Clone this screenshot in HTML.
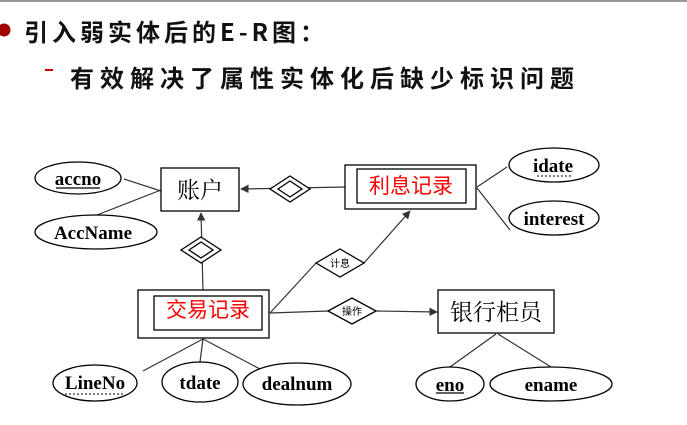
<!DOCTYPE html>
<html><head><meta charset="utf-8"><style>
html,body{margin:0;padding:0;background:#fff;width:687px;height:425px;overflow:hidden}
svg{display:block}
.t{font-family:"Liberation Serif","Noto Serif CJK SC",serif;font-weight:bold;font-size:19px;fill:#000}
.c{font-family:"Noto Serif CJK SC","Liberation Serif",serif;font-size:23px;fill:#000}
.r{font-family:"Noto Sans CJK SC",sans-serif;font-size:21px;fill:#f00}
.s{font-family:"Noto Sans CJK SC",sans-serif;font-size:10px;fill:#000}
.h{font-family:"Noto Sans CJK SC",sans-serif;font-size:24px;font-weight:bold;fill:#111;letter-spacing:4px}
</style></head><body>
<svg width="687" height="425" viewBox="0 0 687 425" xmlns="http://www.w3.org/2000/svg">
<defs><marker id="a" viewBox="0 0 10 10" refX="9" refY="5" markerWidth="7" markerHeight="7" orient="auto"><path d="M0,0L10,5L0,10z" fill="#333"/></marker></defs>
<rect x="0" y="0" width="687" height="2" fill="#999"/>
<circle cx="4" cy="30" r="6.5" fill="#a00000"/>
<text class="h" x="24" y="41">引入弱实体后的E-R图：</text>
<rect x="45" y="69" width="8" height="2" fill="#c00"/>
<text class="h" x="70" y="87" style="letter-spacing:6px">有效解决了属性实体化后缺少标识问题</text>
<g stroke="#333" stroke-width="1.2" fill="none">
<line x1="124" y1="179" x2="161" y2="191"/>
<line x1="97" y1="215" x2="161" y2="190"/>
<line x1="346" y1="187" x2="241" y2="189" marker-end="url(#a)"/>
<line x1="203" y1="290" x2="201" y2="213" marker-end="url(#a)"/>
<line x1="477" y1="187" x2="507" y2="167"/>
<line x1="477" y1="188" x2="510" y2="230"/>
<line x1="270" y1="313" x2="316" y2="263"/>
<line x1="364" y1="263" x2="410" y2="211" marker-end="url(#a)"/>
<line x1="270" y1="313" x2="328" y2="311"/>
<line x1="376" y1="311" x2="437" y2="312" marker-end="url(#a)"/>
<line x1="496" y1="334" x2="450" y2="367"/>
<line x1="498" y1="334" x2="551" y2="367"/>
<line x1="203" y1="339" x2="143" y2="371"/>
<line x1="203" y1="339" x2="200" y2="362"/>
<line x1="203" y1="339" x2="260" y2="369"/>
</g>
<g stroke="#000" stroke-width="1.3" fill="#fff">
<ellipse cx="78" cy="178" rx="43" ry="16"/>
<ellipse cx="96" cy="232" rx="61" ry="17"/>
<ellipse cx="554" cy="165" rx="45" ry="17"/>
<ellipse cx="554" cy="218" rx="45" ry="17"/>
<ellipse cx="450" cy="384" rx="34" ry="17"/>
<ellipse cx="551" cy="384" rx="61" ry="17"/>
<ellipse cx="95" cy="383" rx="42" ry="18"/>
<ellipse cx="200" cy="382" rx="38" ry="20"/>
<ellipse cx="297" cy="384" rx="54" ry="21"/>
<rect x="161" y="168" width="78" height="43"/>
<rect x="345" y="165" width="131" height="44"/>
<rect x="357" y="169" width="109" height="34"/>
<rect x="138" y="290" width="131" height="48"/>
<rect x="154" y="296" width="108" height="34"/>
<rect x="438" y="290" width="116" height="43"/>
<path d="M270,189L290,176L310,189L290,202Z"/>
<path d="M278,189L290,181L302,189L290,197Z"/>
<path d="M181,250L201,237L221,250L201,263Z"/>
<path d="M189,250L201,242L213,250L201,258Z"/>
<path d="M316,263L340,249L364,263L340,277Z"/>
<path d="M328,311L352,298L376,311L352,324Z"/>
</g>
<g text-anchor="middle">
<text class="t" x="78" y="185">accno</text>
<line x1="56" y1="188" x2="100" y2="188" stroke="#000" stroke-width="1.2"/>
<text class="t" x="93" y="239">AccName</text>
<text class="t" x="553" y="172">idate</text>
<line x1="537" y1="176" x2="573" y2="176" stroke="#000" stroke-dasharray="2,2"/>
<text class="t" x="554" y="225">interest</text>
<text class="t" x="450" y="391">eno</text>
<line x1="436" y1="393" x2="464" y2="393" stroke="#000" stroke-width="1.2"/>
<text class="t" x="551" y="391">ename</text>
<text class="t" x="95" y="389">LineNo</text>
<line x1="65" y1="394" x2="125" y2="394" stroke="#000" stroke-dasharray="2,2"/>
<text class="t" x="200" y="389">tdate</text>
<text class="t" x="297" y="390">dealnum</text>
<text class="c" x="200" y="198">账户</text>
<text class="c" x="496" y="320">银行柜员</text>
<text class="r" x="411" y="193">利息记录</text>
<text class="r" x="208" y="317">交易记录</text>
<text class="s" x="340" y="267">计息</text>
<text class="s" x="352" y="315">操作</text>
</g>
</svg>
</body></html>
